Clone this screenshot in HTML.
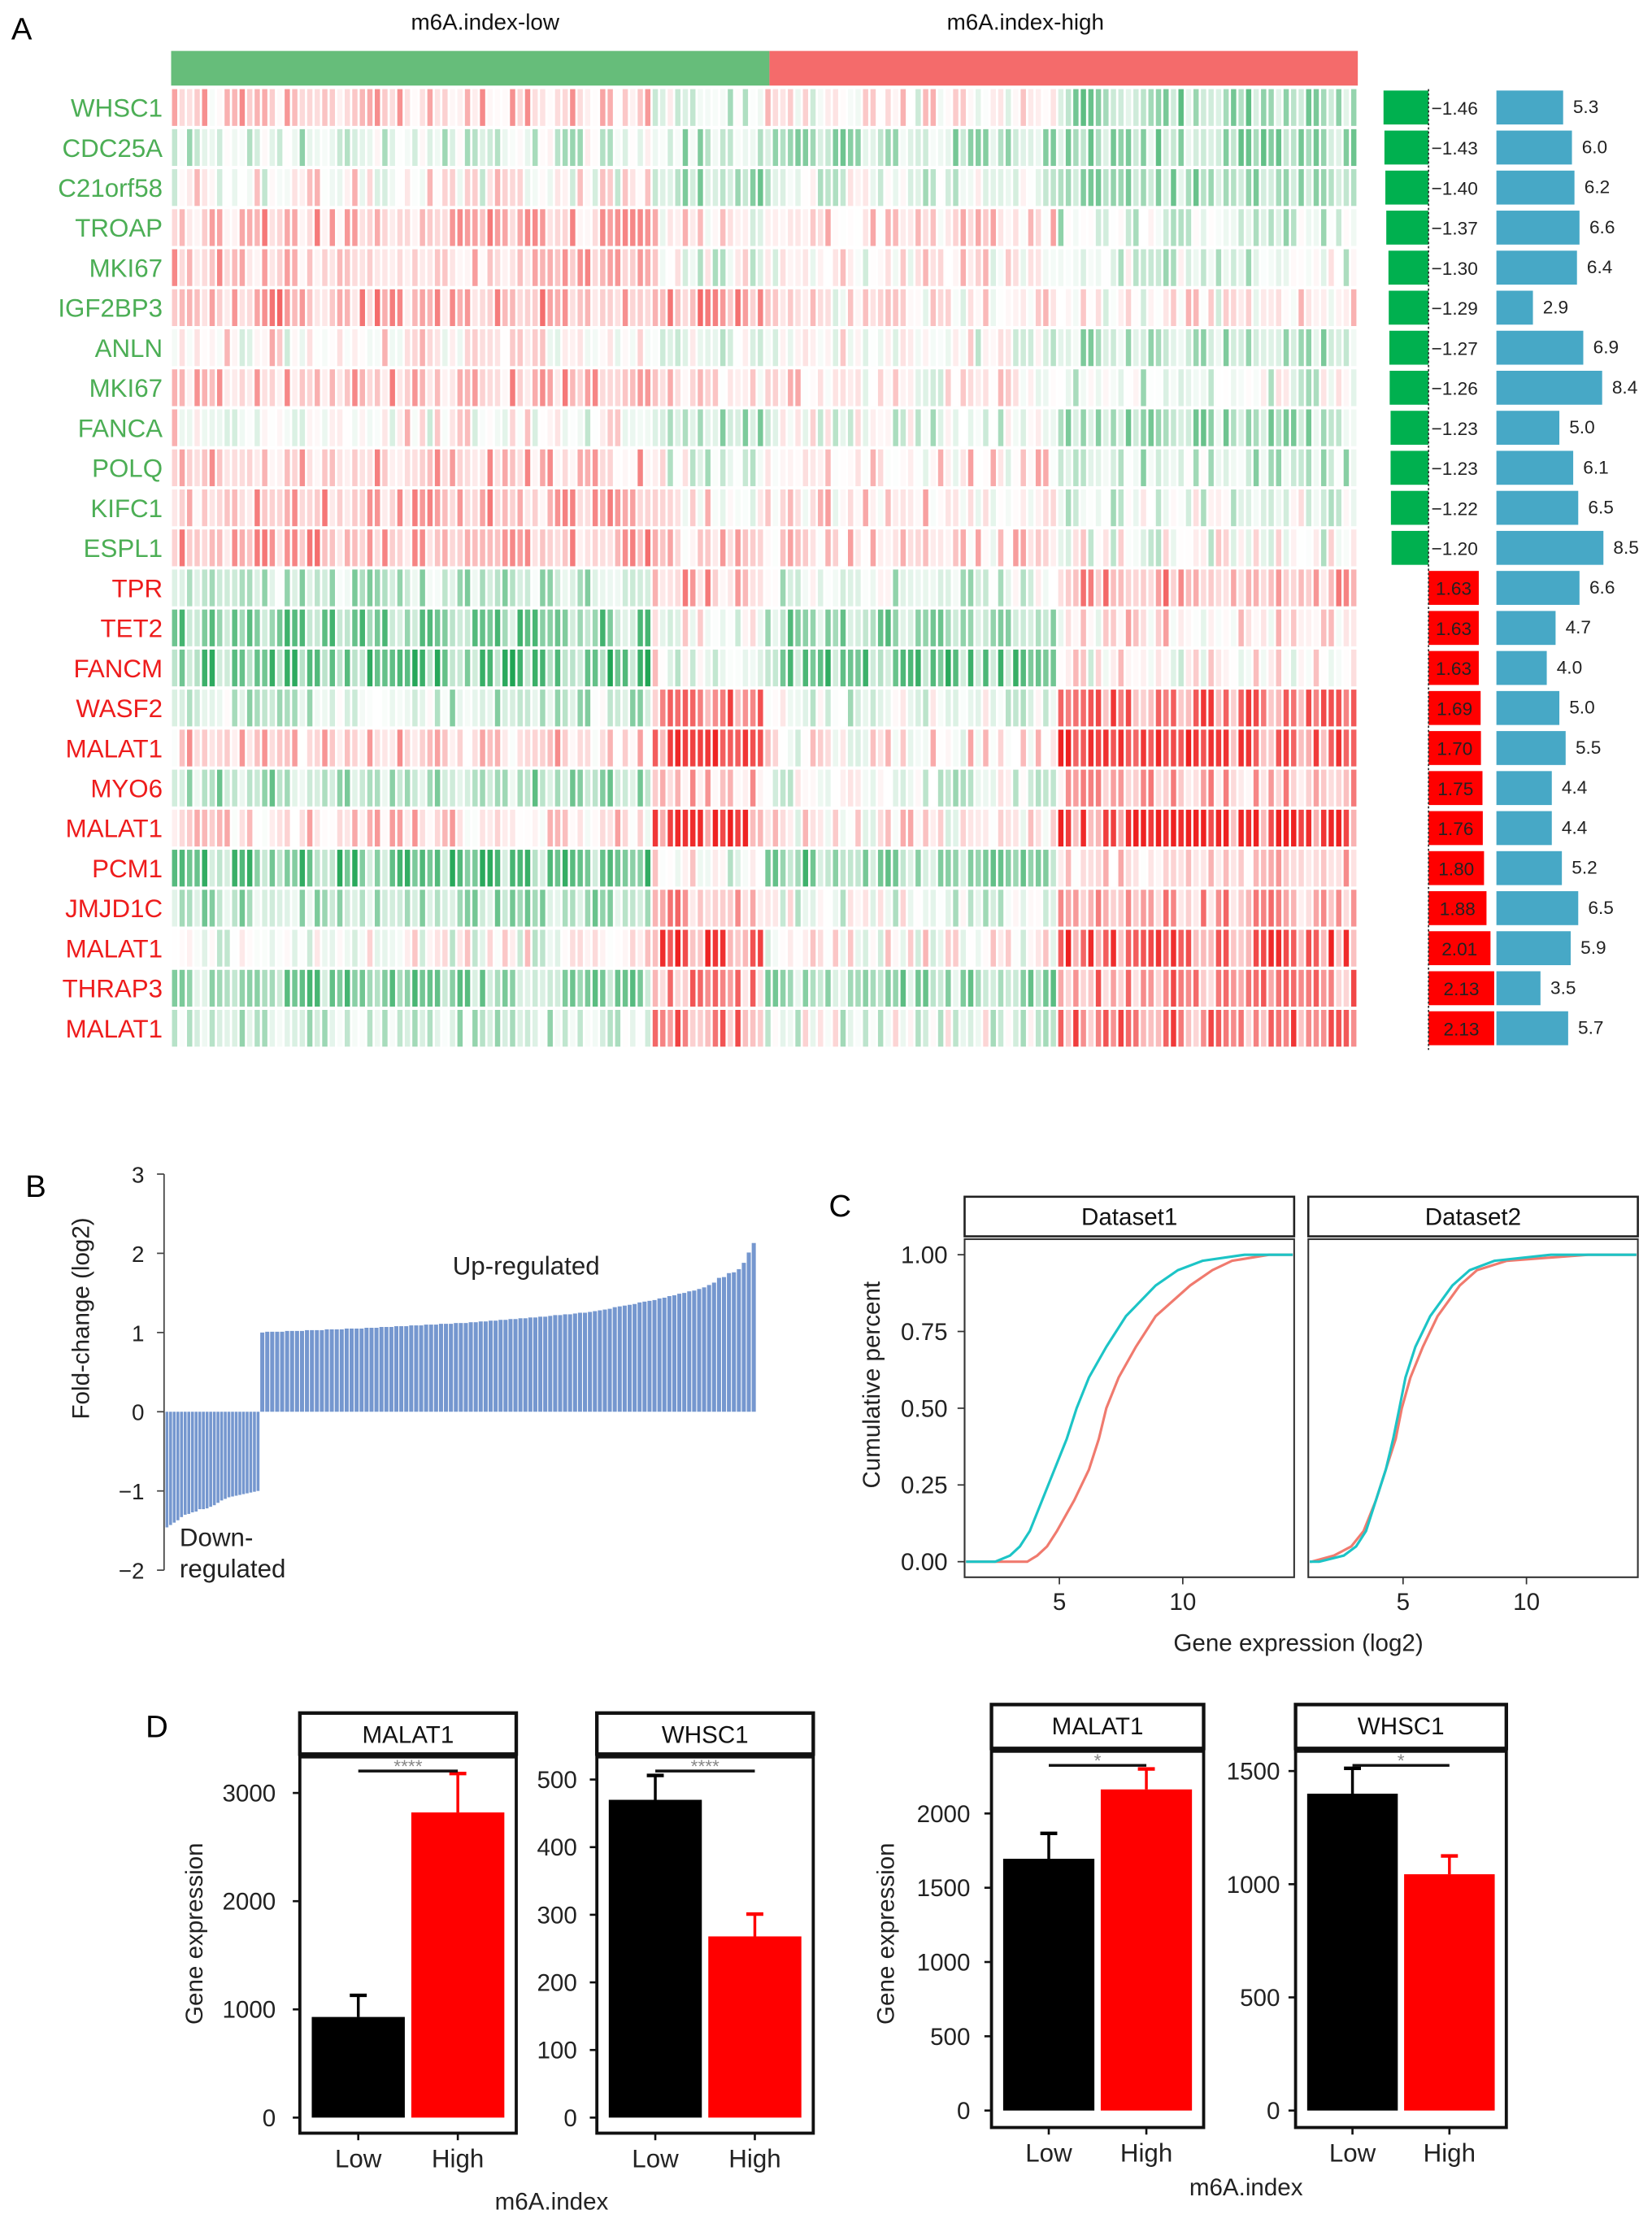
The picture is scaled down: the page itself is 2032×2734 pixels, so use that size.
<!DOCTYPE html>
<html><head><meta charset="utf-8">
<style>
html,body{margin:0;padding:0;background:#fff;}
svg{display:block;font-family:"Liberation Sans",Arial,sans-serif;}
</style></head>
<body>
<svg id="fig" width="2032" height="2734" viewBox="0 0 1168 1571.5" xmlns="http://www.w3.org/2000/svg">
<rect width="1168" height="1571.5" fill="#fff"/>
</svg>
<script>
// ===== Panel A data =====
const genes = ["WHSC1","CDC25A","C21orf58","TROAP","MKI67","IGF2BP3","ANLN","MKI67","FANCA","POLQ","KIFC1","ESPL1","TPR","TET2","FANCM","WASF2","MALAT1","MYO6","MALAT1","PCM1","JMJD1C","MALAT1","THRAP3","MALAT1"];
const foldChanges = [-1.46,-1.43,-1.40,-1.37,-1.30,-1.29,-1.27,-1.26,-1.23,-1.23,-1.22,-1.20,1.63,1.63,1.63,1.69,1.70,1.75,1.76,1.80,1.88,2.01,2.13,2.13];
const blueValues = [5.3,6.0,6.2,6.6,6.4,2.9,6.9,8.4,5.0,6.1,6.5,8.5,6.6,4.7,4.0,5.0,5.5,4.4,4.4,5.2,6.5,5.9,3.5,5.7];
// block mean expression per row: [low-A, low-B, high-A, high-B]
const blockMeans = [
[0.25,-0.2,0.05,-0.45],[-0.2,-0.3,-0.35,-0.45],[0.05,-0.4,-0.1,-0.45],[0.35,0.1,0.15,-0.2],
[0.3,-0.05,0.1,-0.15],[0.45,0.45,0.1,0.1],[0.1,-0.15,-0.05,-0.3],[0.35,0.15,0.1,-0.15],
[0.05,-0.35,-0.1,-0.4],[0.3,-0.1,0.15,-0.25],[0.35,0.1,0.15,-0.1],[0.4,0.25,0.2,-0.05],
[-0.3,0.35,-0.2,0.45],[-0.6,-0.05,-0.5,0.15],[-0.75,0.0,-0.7,0.05],[-0.25,0.7,-0.15,0.75],
[0.25,0.85,0.1,0.85],[-0.45,0.3,-0.15,0.35],[0.2,0.95,0.1,0.95],[-0.7,0.0,-0.6,0.25],
[-0.4,0.45,-0.1,0.45],[0.0,0.85,0.05,0.85],[-0.55,0.55,-0.45,0.6],[-0.25,0.65,-0.1,0.7]];
const blockCols = [64,15,39,40];

// ===== Panel B data =====
const downValues = [-1.46,-1.43,-1.40,-1.37,-1.33,-1.30,-1.29,-1.27,-1.26,-1.23,-1.23,-1.22,-1.20,-1.18,-1.15,-1.12,-1.10,-1.08,-1.07,-1.06,-1.05,-1.04,-1.03,-1.02,-1.01,-1.00];
const upValues = [1.00,1.01,1.01,1.01,1.01,1.02,1.02,1.02,1.02,1.03,1.03,1.03,1.03,1.04,1.04,1.04,1.04,1.05,1.05,1.05,
1.05,1.06,1.06,1.06,1.07,1.07,1.07,1.08,1.08,1.08,1.09,1.09,1.09,1.10,1.10,1.10,1.11,1.11,1.11,1.12,
1.12,1.12,1.13,1.13,1.14,1.14,1.15,1.15,1.16,1.16,1.17,1.17,1.18,1.18,1.19,1.19,1.20,1.20,1.21,1.22,
1.22,1.23,1.23,1.24,1.25,1.25,1.26,1.27,1.28,1.29,1.30,1.32,1.33,1.34,1.35,1.36,1.38,1.39,1.40,1.41,
1.43,1.44,1.46,1.47,1.49,1.50,1.52,1.53,1.55,1.57,1.60,1.63,1.69,1.70,1.75,1.76,1.80,1.88,2.01,2.13];
const bTicks = [3,2,1,0,-1,-2];

// ===== Panel C data =====
const probs = [0,0.02,0.05,0.1,0.2,0.3,0.4,0.5,0.6,0.7,0.8,0.9,0.95,0.98,1];
const ds1Cyan = [2.4,3.0,3.4,3.8,4.3,4.8,5.3,5.7,6.2,6.9,7.7,8.9,9.8,10.8,12.5];
const ds1Red = [3.7,4.1,4.5,4.9,5.6,6.2,6.6,6.9,7.4,8.1,8.9,10.3,11.2,12.0,13.5];
const ds2Cyan = [1.6,2.6,3.1,3.5,3.9,4.3,4.6,4.85,5.1,5.5,6.1,7.0,7.7,8.7,11.0];
const ds2Red = [1.3,2.2,2.9,3.4,3.9,4.3,4.7,4.95,5.3,5.8,6.4,7.3,8.0,9.2,12.5];
const cYTicks = [0,0.25,0.5,0.75,1];
const cXTicks = [5,10];

// ===== Panel D data =====
const dTitles = ["MALAT1","WHSC1","MALAT1","WHSC1"];
const dMeans = [[930,2820],[470,268],[1695,2162],[1400,1044]];
const dErr = [[1130,3180],[506,301],[1866,2300],[1512,1125]];
const dTicks = [[0,1000,2000,3000],[0,100,200,300,400,500],[0,500,1000,1500,2000],[0,500,1000,1500]];
const dStars = ["****","****","*","*"];
const dGroups = ["Low","High"];

const NS="http://www.w3.org/2000/svg";
const svg=document.getElementById('fig');
function el(tag,attrs,parent,text){const e=document.createElementNS(NS,tag);for(const k in attrs)e.setAttribute(k,attrs[k]);if(text!==undefined)e.textContent=text;(parent||svg).appendChild(e);return e;}
function grp(name){const g=el('g',{});return g;}

// ---------- Panel A ----------
const gA=grp('panel-a');
let t=el('text',{x:8,y:28,'font-size':22},gA,'A');

t=el('text',{x:343,y:21,'font-size':16,'text-anchor':'middle',fill:'#111'},gA,'m6A.index-low');

t=el('text',{x:725,y:21,'font-size':16,'text-anchor':'middle',fill:'#111'},gA,'m6A.index-high');

let r=el('rect',{x:121,y:36,width:423,height:24.5,fill:'#66bd7a'},gA);

r=el('rect',{x:544,y:36,width:416,height:24.5,fill:'#f46b6b'},gA);


const hmX0=121,hmX1=960,rowTop=63,rowPitch=28.3;
const totalCols=blockCols.reduce((a,b)=>a+b,0);
const colW=(hmX1-hmX0)/totalCols;
function hash(a,b){let h=(a*374761393+b*668265263)>>>0;h=((h^(h>>>13))*1274126177)>>>0;return ((h^(h>>>16))>>>0)/4294967295;}
function heatColor(v){v=Math.max(-1,Math.min(1,v));
 if(v>=0){const a=v;return `rgb(${Math.round(255-a*17)},${Math.round(255-a*222)},${Math.round(255-a*222)})`;}
 const a=-v;return `rgb(${Math.round(255-a*235)},${Math.round(255-a*95)},${Math.round(255-a*180)})`;}
const gH=grp('heatmap');gA.appendChild(gH);
genes.forEach((g,i)=>{
 const y=rowTop+i*rowPitch;
 let c=0;
 blockMeans[i].forEach((m,b)=>{
  for(let k=0;k<blockCols[b];k++,c++){
   const u=hash(i+1,c+7), w=hash(c+3,i*5+11);
   let v=m+(u-0.5)*0.65*(1-0.5*Math.abs(m));
   if(w<0.3)v*=0.35;
   const cell=el('rect',{x:(hmX0+c*colW+0.6).toFixed(2),y:y.toFixed(2),width:(colW*0.7).toFixed(2),height:26,fill:heatColor(v)},gH);
   
   
  }
 });
 const lab=el('text',{x:115,y:(y+19.5).toFixed(1),'font-size':18,'text-anchor':'end',fill:i<12?'#4cae55':'#ee1c1c'},gA,g);
 
 
});
// fold change bars
const fcZero=1010, fcScale=21.8;
const blueX0=1058, blueScale=8.9;
const gF=grp('fold-change-bars');gA.appendChild(gF);
const gBl=grp('blue-bars');gA.appendChild(gBl);
foldChanges.forEach((v,i)=>{
 const y=rowTop+i*rowPitch+1;
 const w=Math.abs(v)*fcScale;
 const b=el('rect',{x:v<0?fcZero-w:fcZero,y:y,width:w,height:24,fill:v<0?'#00b04f':'#ff0000'},gF);
 
 
 const txt=v<0?'\u2212'+Math.abs(v).toFixed(2):v.toFixed(2);
 const tl=el('text',{x:v<0?fcZero+2:fcZero+w/2,y:y+17,'font-size':13,'text-anchor':v<0?'start':'middle',fill:'#222'},gF,txt);
 
 
});
let ln=el('line',{x1:fcZero,x2:fcZero,y1:rowTop,y2:rowTop+24*rowPitch,stroke:'#333','stroke-width':1,'stroke-dasharray':'1.5,1.5'},gF);

blueValues.forEach((v,i)=>{
 const y=rowTop+i*rowPitch+1;
 const w=v*blueScale;
 const b=el('rect',{x:blueX0,y:y,width:w,height:24,fill:'#47a8c6'},gBl);
 
 
 const tl=el('text',{x:blueX0+w+7,y:y+16,'font-size':13,fill:'#222'},gBl,v.toFixed(1));
 
 
});

// ---------- Panel B ----------
const gB=grp('panel-b');
t=el('text',{x:18,y:846,'font-size':22},gB,'B');

const bY0=998, bUnit=56;
const byS=v=>bY0-v*bUnit;
const bAxisX=116, bXstart=117, bSplit=184, bXend=535;
const downW=(bSplit-bXstart)/downValues.length, upW=(bXend-bSplit)/upValues.length;
downValues.forEach((v,i)=>{
 const b=el('rect',{x:(bXstart+i*downW).toFixed(2),y:byS(0),width:(downW*0.8).toFixed(2),height:(byS(v)-byS(0)).toFixed(2),fill:'#7597cf'},gB);
 
 
});
upValues.forEach((v,i)=>{
 const b=el('rect',{x:(bSplit+i*upW).toFixed(2),y:byS(v).toFixed(2),width:(upW*0.82).toFixed(2),height:(byS(0)-byS(v)).toFixed(2),fill:'#7597cf'},gB);
 
 
});
ln=el('line',{x1:bAxisX,x2:bAxisX,y1:byS(3),y2:byS(-2),stroke:'#444','stroke-width':1},gB);

bTicks.forEach(v=>{
 const tk=el('line',{x1:bAxisX-5,x2:bAxisX,y1:byS(v),y2:byS(v),stroke:'#444'},gB);
 
 const tl=el('text',{x:102,y:byS(v)+6,'font-size':16,'text-anchor':'end',fill:'#222'},gB,v<0?'\u2212'+Math.abs(v):String(v));
 
});
t=el('text',{x:0,y:0,'font-size':17,'text-anchor':'middle',fill:'#222',transform:'translate(63,932) rotate(-90)'},gB,'Fold-change (log2)');

t=el('text',{x:372,y:901,'font-size':18,'text-anchor':'middle',fill:'#222'},gB,'Up-regulated');

t=el('text',{x:127,y:1093,'font-size':18,fill:'#222'},gB,'Down-');

t=el('text',{x:127,y:1115,'font-size':18,fill:'#222'},gB,'regulated');


// ---------- Panel C ----------
const gC=grp('panel-c');
t=el('text',{x:586,y:860,'font-size':22},gC,'C');

const cTop=876,cBot=1115;
const cy=p=>1104-p*(1104-887);
const facets=[{name:'Dataset1',x0:682,x1:915,x5:749,cyan:ds1Cyan,red:ds1Red},{name:'Dataset2',x0:925,x1:1158,x5:992,cyan:ds2Cyan,red:ds2Red}];
const cUnit=17.45;
facets.forEach((f,fi)=>{
 const gx=v=>f.x5+(v-5)*cUnit;
 const s=el('rect',{x:f.x0,y:846,width:f.x1-f.x0,height:28,fill:'#fff',stroke:'#222','stroke-width':1.5},gC);
 
 const st=el('text',{x:(f.x0+f.x1)/2,y:866,'font-size':17,'text-anchor':'middle',fill:'#111'},gC,f.name);
 
 const p=el('rect',{x:f.x0,y:cTop,width:f.x1-f.x0,height:cBot-cTop,fill:'#fff',stroke:'#333','stroke-width':1.2},gC);
 
 [['red','#f07a6e'],['cyan','#1cc4c6']].forEach(([k,col])=>{
  const xs=f[k];
  let pts=[[f.x0+1,cy(0)]];
  xs.forEach((x,i)=>pts.push([gx(x),cy(probs[i])]));
  pts.push([f.x1-1,cy(1)]);
  const pl=el('polyline',{points:pts.map(q=>q[0].toFixed(1)+','+q[1].toFixed(1)).join(' '),fill:'none',stroke:col,'stroke-width':1.8},gC);
  
 });
 cXTicks.forEach(v=>{
  const tk=el('line',{x1:gx(v),x2:gx(v),y1:cBot,y2:cBot+5,stroke:'#333'},gC);
  
  const tl=el('text',{x:gx(v),y:1138,'font-size':17,'text-anchor':'middle',fill:'#222'},gC,String(v));
  
 });
 if(fi===0){
  cYTicks.forEach(v=>{
   const tk=el('line',{x1:f.x0-5,x2:f.x0,y1:cy(v),y2:cy(v),stroke:'#333'},gC);
   
   const tl=el('text',{x:670,y:cy(v)+6,'font-size':17,'text-anchor':'end',fill:'#222'},gC,v.toFixed(2));
   
  });
 }
});
t=el('text',{x:918,y:1167,'font-size':17,'text-anchor':'middle',fill:'#222'},gC,'Gene expression (log2)');

t=el('text',{x:0,y:0,'font-size':17,'text-anchor':'middle',fill:'#222',transform:'translate(622,979) rotate(-90)'},gC,'Cumulative percent');


// ---------- Panel D ----------
const gD=grp('panel-d');
t=el('text',{x:103,y:1228,'font-size':22},gD,'D');

const dPanels=[
 {x0:212,x1:365,sTop:1211,pTop:1242,pBot:1508,zero:1497,pxPerUnit:0.0765,labX:195},
 {x0:422,x1:575,sTop:1211,pTop:1242,pBot:1508,zero:1497,pxPerUnit:0.478,labX:408},
 {x0:701,x1:851,sTop:1205,pTop:1238,pBot:1504,zero:1492,pxPerUnit:0.105,labX:686},
 {x0:916,x1:1065,sTop:1205,pTop:1238,pBot:1504,zero:1492,pxPerUnit:0.16,labX:905}];
dPanels.forEach((P,pi)=>{
 const yS=v=>P.zero-v*P.pxPerUnit;
 const w=P.x1-P.x0;
 const s=el('rect',{x:P.x0,y:P.sTop,width:w,height:P.pTop-P.sTop-2,fill:'#fff',stroke:'#111','stroke-width':2.5},gD);
 
 const st=el('text',{x:P.x0+w/2,y:P.sTop+21,'font-size':17,'text-anchor':'middle',fill:'#111'},gD,dTitles[pi]);
 
 const pb=el('rect',{x:P.x0,y:P.pTop,width:w,height:P.pBot-P.pTop,fill:'#fff',stroke:'#111','stroke-width':2.2},gD);
 
 const bw=w*0.43, centers=[P.x0+w*0.27,P.x0+w*0.73];
 dMeans[pi].forEach((m,gi)=>{
  const col=gi===0?'#000':'#ff0000';
  const cx=centers[gi];
  const e=el('line',{x1:cx,x2:cx,y1:yS(m),y2:yS(dErr[pi][gi]),stroke:col,'stroke-width':2},gD);
  
  const ec=el('line',{x1:cx-6,x2:cx+6,y1:yS(dErr[pi][gi]),y2:yS(dErr[pi][gi]),stroke:col,'stroke-width':2.5},gD);
  
  const b=el('rect',{x:cx-bw/2,y:yS(m),width:bw,height:yS(0)-yS(m),fill:col},gD);
  
  const tk=el('line',{x1:cx,x2:cx,y1:P.pBot,y2:P.pBot+5,stroke:'#111','stroke-width':1.5},gD);
  
  const tl=el('text',{x:cx,y:P.pBot+24,'font-size':18,'text-anchor':'middle',fill:'#222'},gD,dGroups[gi]);
  
 });
 const sy=P.pTop+10;
 const sl=el('line',{x1:centers[0],x2:centers[1],y1:sy,y2:sy,stroke:'#111','stroke-width':2},gD);
 
 const ss=el('text',{x:(centers[0]+centers[1])/2,y:sy+1,'font-size':13,'text-anchor':'middle',fill:'#888'},gD,dStars[pi]);
 
 dTicks[pi].forEach(v=>{
  const tk=el('line',{x1:P.x0-5,x2:P.x0,y1:yS(v),y2:yS(v),stroke:'#111','stroke-width':1.5},gD);
  
  const tl=el('text',{x:P.labX,y:yS(v)+6,'font-size':17,'text-anchor':'end',fill:'#222'},gD,String(v));
  
 });
});
t=el('text',{x:0,y:0,'font-size':17,'text-anchor':'middle',fill:'#222',transform:'translate(143,1367) rotate(-90)'},gD,'Gene expression');

t=el('text',{x:0,y:0,'font-size':17,'text-anchor':'middle',fill:'#222',transform:'translate(632,1367) rotate(-90)'},gD,'Gene expression');

t=el('text',{x:390,y:1562,'font-size':17,'text-anchor':'middle',fill:'#222'},gD,'m6A.index');

t=el('text',{x:881,y:1552,'font-size':17,'text-anchor':'middle',fill:'#222'},gD,'m6A.index');

</script>
</body></html>
